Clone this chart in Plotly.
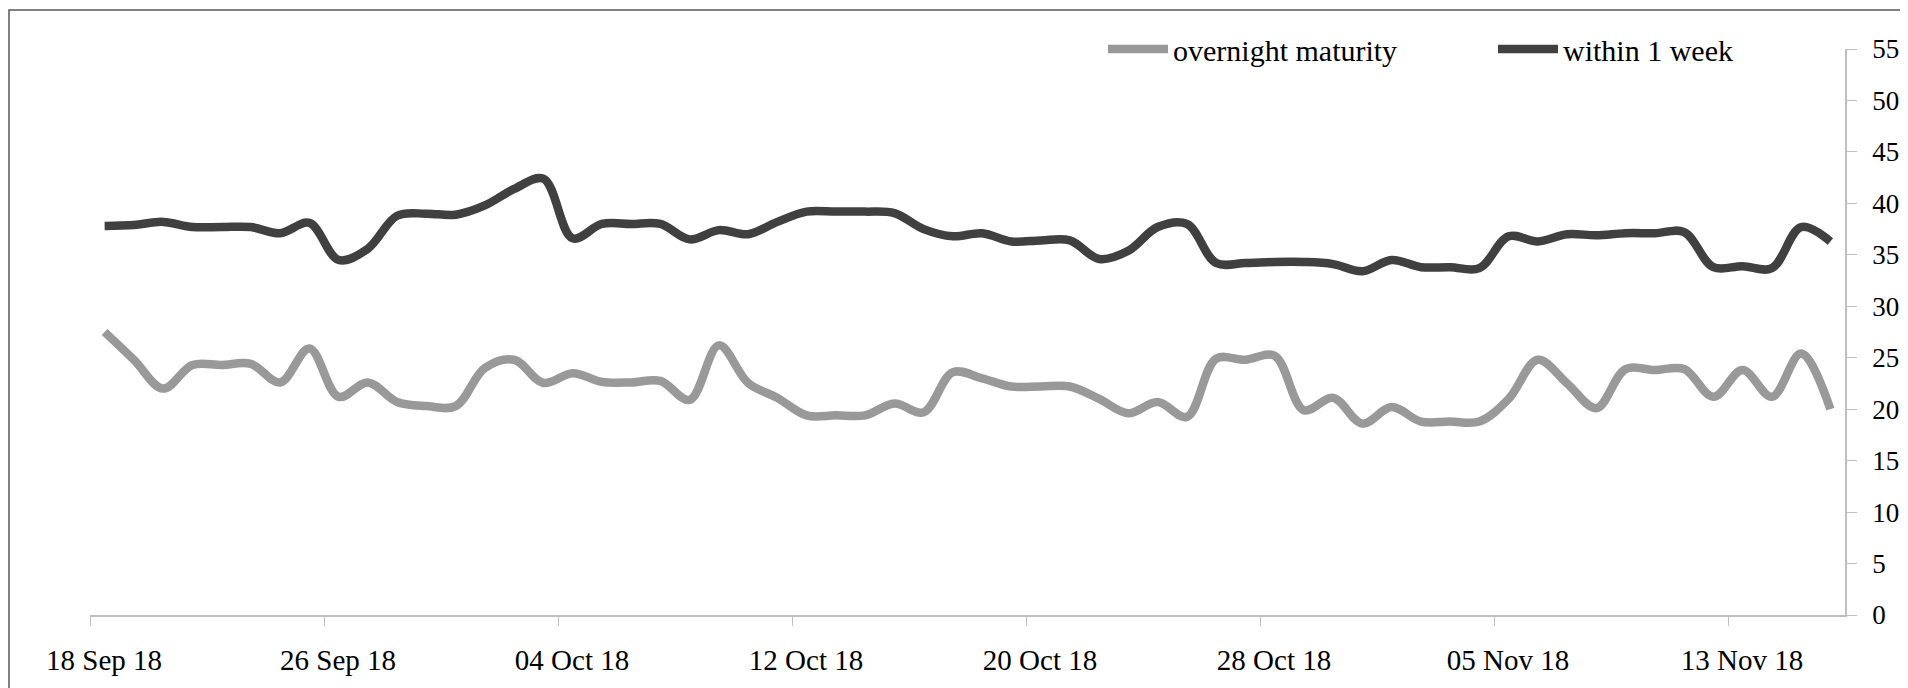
import pandas as pd
import plotly.graph_objects as go

# ---- data -------------------------------------------------------------
dates = pd.date_range("2018-09-18", "2018-11-16", freq="D")

overnight_maturity = [
    27.5, 24.8, 22.0, 24.3, 24.3, 24.4, 22.6, 25.9, 21.2, 22.6,
    20.7, 20.3, 20.3, 24.0, 24.8, 22.55, 23.5, 22.65, 22.6, 22.75,
    20.9, 26.2, 22.55, 21.1, 19.4, 19.4, 19.4, 20.55, 19.7, 23.6,
    23.0, 22.2, 22.2, 22.2, 21.0, 19.6, 20.7, 19.25, 24.9, 24.8,
    25.2, 19.9, 21.1, 18.6, 20.2, 18.8, 18.8, 18.8, 21.0, 24.8,
    22.5, 20.1, 23.9, 23.8, 23.9, 21.2, 23.8, 21.2, 25.4, 20.0,
]

within_1_week = [
    37.8, 37.9, 38.2, 37.7, 37.7, 37.7, 37.1, 38.1, 34.5, 35.6,
    38.8, 39.0, 38.9, 39.8, 41.4, 42.4, 36.6, 38.0, 38.0, 38.0,
    36.5, 37.4, 37.0, 38.2, 39.2, 39.2, 39.2, 39.05, 37.5, 36.8,
    37.1, 36.3, 36.4, 36.4, 34.6, 35.4, 37.7, 38.0, 34.2, 34.2,
    34.3, 34.3, 34.1, 33.4, 34.5, 33.8, 33.8, 33.7, 36.8, 36.3,
    37.0, 36.9, 37.1, 37.1, 37.2, 33.8, 33.9, 33.7, 37.7, 36.3,
]

tick_dates = ["2018-09-18", "2018-09-26", "2018-10-04", "2018-10-12",
              "2018-10-20", "2018-10-28", "2018-11-05", "2018-11-13"]
tick_labels = ["18 Sep 18", "26 Sep 18", "04 Oct 18", "12 Oct 18",
               "20 Oct 18", "28 Oct 18", "05 Nov 18", "13 Nov 18"]

series_names = ["overnight maturity", "within 1 week"]
series_colors = ["#999999", "#404040"]

# ---- figure -----------------------------------------------------------
# points sit in the middle of each day slot
x_mid = dates + pd.Timedelta(hours=12)

FONT = "Liberation Serif"
L, T, R, B = 82, 41, 71, 81          # page has an 8px body margin
PW, PH = 1908 - L - R, 688 - T - B   # plot-area size in px

fig = go.Figure()
for name, vals, col in zip(series_names, [overnight_maturity, within_1_week], series_colors):
    fig.add_trace(go.Scatter(
        x=x_mid, y=vals, name=name, mode="lines",
        line=dict(color=col, width=8.5, shape="spline", smoothing=1.0),
    ))

fig.update_layout(
    width=1908, height=688,
    margin=dict(l=L, r=R, t=T, b=B, autoexpand=False),
    paper_bgcolor="white", plot_bgcolor="white",
    font=dict(family=FONT, color="#000000", size=27),
    showlegend=True,
    legend=dict(
        orientation="h", x=(1095 - L) / PW, xanchor="left",
        y=1.0, yanchor="middle",
        font=dict(family=FONT, size=30, color="#000000"),
        bgcolor="rgba(0,0,0,0)",
        entrywidth=315, entrywidthmode="pixels",
        itemwidth=60,
    ),
    xaxis=dict(
        type="date",
        range=["2018-09-18", "2018-11-17"],
        tickmode="array", tickvals=tick_dates, ticktext=tick_labels,
        ticks="outside", ticklen=9, tickcolor="#bfbfbf", tickwidth=1,
        showline=True, linecolor="#bfbfbf", linewidth=1.5,
        showgrid=False, zeroline=False,
        ticklabelshift=14, ticklabelstandoff=9,
        tickfont=dict(family=FONT, size=29, color="#000000"),
    ),
    yaxis=dict(
        side="right", range=[0, 55], dtick=5, tick0=0,
        ticks="outside", ticklen=10, tickcolor="#bfbfbf", tickwidth=1,
        showline=True, linecolor="#bfbfbf", linewidth=1.5,
        showgrid=False, zeroline=False,
        ticklabelstandoff=10,
        tickfont=dict(family=FONT, size=27, color="#000000"),
    ),
)

# outer frame of the (cropped) chart object
fig.add_shape(
    type="rect", xref="paper", yref="paper",
    x0=(1 - L) / PW, x1=1.2, y0=-0.5, y1=1 + (T - 2) / PH,
    line=dict(color="#595959", width=1.5), fillcolor="rgba(0,0,0,0)", layer="below",
)

fig.write_html("out.html")
